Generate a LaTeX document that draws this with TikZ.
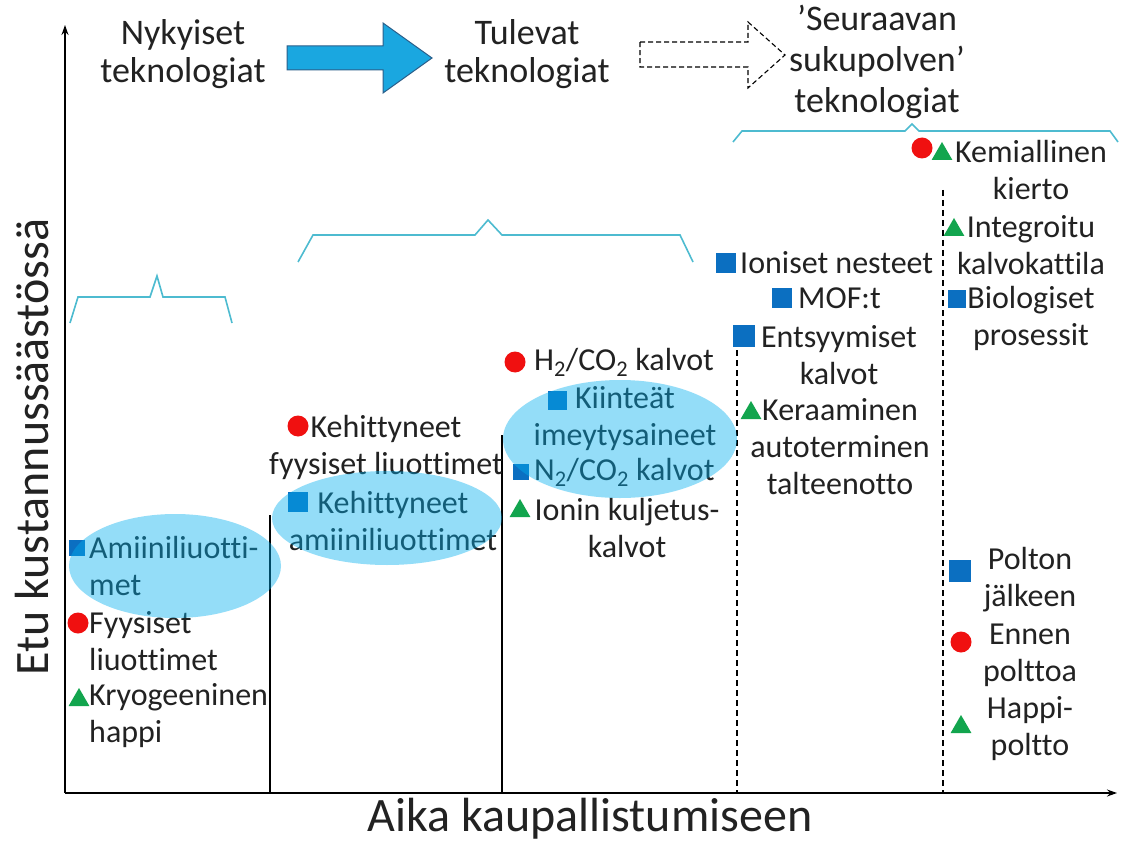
\documentclass[tikz,border=0pt]{standalone}
\usepackage{fontspec}
\setmainfont{Carlito}[Ligatures={TeX,NoCommon}]
\usepackage{tikz}
\usetikzlibrary{arrows.meta,positioning,shapes.geometric}
\definecolor{cRed}  {HTML}{F01010}
\definecolor{cBlue} {HTML}{0B6FC1}
\definecolor{cGreen}{HTML}{12A54E}
\definecolor{cSky}  {HTML}{00B0F0}
\definecolor{cBrace}{HTML}{4DBBD0}
\definecolor{cArrow}{HTML}{1AA7E0}
\definecolor{cArrLn}{HTML}{2C5F8A}
\definecolor{cText} {HTML}{222222}
\tikzset{
  txt/.style   ={font=\fontsize{32}{37}\selectfont,text=cText,inner sep=0pt,
                 align=center},
  txtl/.style  ={txt,align=left,anchor=west},
  ttl/.style   ={font=\fontsize{36}{38}\selectfont,text=cText,inner sep=0pt,
                 align=center},
  axl/.style   ={font=\fontsize{48}{52}\selectfont,text=cText,inner sep=0pt},
  sq/.style    ={rectangle,fill=cBlue,minimum size=#1,inner sep=0pt},
  dot/.style   ={circle,fill=cRed,minimum size=21pt,inner sep=0pt},
  tri/.style   ={regular polygon,regular polygon sides=3,fill=cGreen,
                 minimum size=24pt,inner sep=0pt},
  grpell/.style={ellipse,fill=cSky,fill opacity=0.42,inner sep=0pt},
  brc/.style   ={draw=cBrace,line width=1.6pt,line join=miter},
  axis/.style  ={draw=black,line width=1.4pt,-{Stealth[length=10pt,width=7pt]}},
  sep/.style   ={draw=black,line width=1.2pt},
  dsep/.style  ={sep,dash pattern=on 6pt off 4pt},
}

\begin{document}
\begin{tikzpicture}[x=1pt, y=-1pt]

\path[fill=white,use as bounding box] (0,0) rectangle (1121,842);

% ===== axes and column separators =======================================
\coordinate (O) at (65,793);
\draw[axis] (O) -- (65,25);
\draw[axis] (O) -- (1117,793);
\draw[sep]  (270,515) -- (270,793);
\draw[sep]  (502,435) -- (502,793);
\draw[dsep] (737,350) -- (737,793);
\draw[dsep] (943,190) -- (943,793);

\node[axl,anchor=base] (xlab) at (590,831) {Aika kaupallistumiseen};
\node[axl,rotate=90] (ylab) at (32,447) {Etu kustannussäästössä};

% ===== generations along the top =======================================
\node[ttl] (now) at (183,54) {Nykyiset\\teknologiat};
\node[ttl] (fut) at (527,54) {Tulevat\\teknologiat};
\node[ttl,font=\fontsize{36}{41}\selectfont] (nxt) at (877,62)
  {’Seuraavan\\sukupolven’\\teknologiat};

\draw[draw=cArrLn,fill=cArrow,line width=1pt]
  (287,46) -- (383,46) -- (383,23) -- (432,58) -- (383,93) -- (383,70)
  -- (287,70) -- cycle;
\draw[black,line width=1.1pt,dash pattern=on 5pt off 3pt]
  (640,42) -- (748,42) -- (748,22) -- (785,55) -- (748,88) -- (748,67)
  -- (640,67) -- cycle;

% ===== braces ===========================================================
\draw[brc] (70,323) -- (78,297) -- (150,297) -- (157,276) -- (163,297)
  -- (225,297) -- (232,323);
\draw[brc] (298,262) -- (313,235) -- (475,235) -- (488,220) -- (502,235)
  -- (680,235) -- (693,262);
\draw[brc] (733,142) -- (742,131) -- (905,131) -- (912,124) -- (919,131)
  -- (1110,131) -- (1118,142);

% ===== technologies =====================================================
\node[txtl] (t1a) at (89,566) {Amiiniliuotti-\\met};
\node[txtl] (t1b) at (89,641) {Fyysiset\\liuottimet};
\node[txtl] (t1c) at (89,716) {Kryogeeninen\\happi};

\node[txt] (t2a) at (386,447) {Kehittyneet\\fyysiset liuottimet};
\node[txt] (t2b) at (393,521) {Kehittyneet\\amiiniliuottimet};

\node[txtl] (t3a) at (534,362) {H\textsubscript{2}/CO\textsubscript{2} kalvot};
\node[txt]  (t3b) at (625,419) {Kiinteät\\imeytysaineet};
\node[txtl] (t3c) at (534,472) {N\textsubscript{2}/CO\textsubscript{2} kalvot};
\node[txt]  (t3d) at (627,528) {Ionin kuljetus-\\kalvot};

\node[txtl] (t4a) at (740,263) {Ioniset nesteet};
\node[txtl] (t4b) at (798,298) {MOF:t};
\node[txt]  (t4c) at (839,355) {Entsyymiset\\kalvot};
\node[txt]  (t4d) at (840,447) {Keraaminen\\autoterminen\\talteenotto};

\node[txt] (t5a) at (1031,170) {Kemiallinen\\kierto};
\node[txt] (t5b) at (1031,245) {Integroitu\\kalvokattila};
\node[txt] (t5c) at (1031,318) {Biologiset\\prosessit};
\node[txt] (t5d) at (1030,580) {Polton\\jälkeen};
\node[txt] (t5e) at (1030,655) {Ennen\\polttoa};
\node[txt] (t5f) at (1030,729) {Happi-\\poltto};

% ===== markers ==========================================================
\foreach \n/\x/\y/\s in {1/77/548/16pt, 2/298/502/20pt, 3/557/400/19pt,
    4/521/472/16pt, 5/726/263/20pt, 6/782/298/20pt, 7/744/336/22pt,
    8/957/299/18pt, 9/960/571/22pt}
  \node[sq=\s] (q\n) at (\x,\y) {};
\foreach \n/\x/\y in {1/78/623, 2/298/426, 3/515/362, 4/922/148, 5/961/642}
  \node[dot] (c\n) at (\x,\y) {};
\foreach \n/\x/\y in {1/79/700, 2/520/511, 3/751/413, 4/942/154, 5/954/230,
    6/961/727}
  \node[tri] (g\n) at (\x,\y) {};

% ===== groupings (laid over text) =======================================
\node[grpell,minimum width=212pt,minimum height=104pt] (e1) at (175,566) {};
\node[grpell,minimum width=230pt,minimum height=94pt]  (e2) at (387,518) {};
\node[grpell,minimum width=234pt,minimum height=118pt] (e3) at (620,439) {};

\end{tikzpicture}
\end{document}
